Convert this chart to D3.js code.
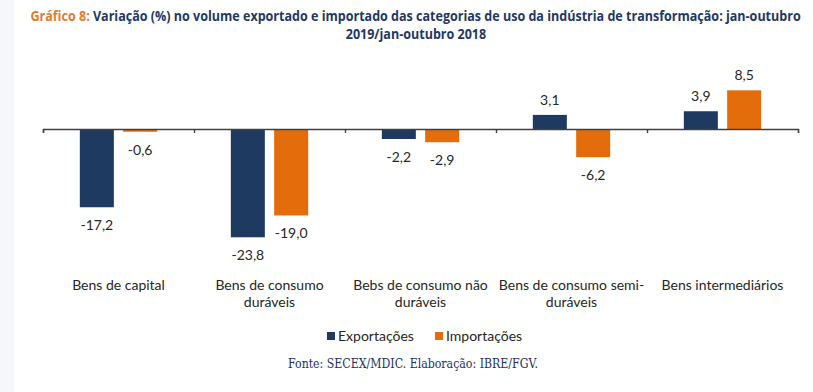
<!DOCTYPE html>
<html>
<head>
<meta charset="utf-8">
<script src="https://cdn.jsdelivr.net/npm/d3@7"></script>
<style>
  body { margin: 0; background: #fff; }
  svg { display: block; }
</style>
</head>
<body>
<svg class="chart"></svg>
<script>
var width = 813, height = 392;

// data
var categories = [
  ["Bens de capital"],
  ["Bens de consumo", "duráveis"],
  ["Bebs de consumo não", "duráveis"],
  ["Bens de consumo semi-", "duráveis"],
  ["Bens intermediários"]
];
var series = ["Exportações", "Importações"];
var exportacoes = [-17.2, -23.8, -2.2, 3.1, 3.9];
var importacoes = [-0.6, -19.0, -2.9, -6.2, 8.5];
var colors = ["#1f3a60", "#e46c0a"];

var data = categories.map((c, i) => ({
  name: c, values: [exportacoes[i], importacoes[i]]
}));

var fmt = v => v.toFixed(1).replace(".", ",");

var svg = d3.select(".chart").attr("width", width).attr("height", height);

// light strip at the left edge
svg.append("rect").attr("x", 0).attr("y", 0).attr("width", 14).attr("height", height)
  .attr("fill", "#f5f7fa");

// squeeze a text horizontally so it fits a width, centred on cx
function fitText(sel, cx, w) {
  var b = sel.node().getBBox();
  var s = w ? w / b.width : 1;
  sel.attr("transform", `translate(${cx - b.width * s / 2},0) scale(${s},1)`);
  return s;
}

// title
var t1 = svg.append("text").attr("y", 21)
  .style("font-family", "'Open Sans', sans-serif").style("font-weight", "bold")
  .style("font-size", "14px");
t1.append("tspan").attr("fill", "#e07b2e").text("Gráfico 8: ");
t1.append("tspan").attr("fill", "#1f3864")
  .text("Variação (%) no volume exportado e importado das categorias de uso da indústria de transformação: jan-outubro");
var sc = fitText(t1, 416, 771);
var t2 = svg.append("text").attr("y", 39)
  .style("font-family", "'Open Sans', sans-serif").style("font-weight", "bold")
  .style("font-size", "14px").attr("fill", "#1f3864")
  .text("2019/jan-outubro 2018");
fitText(t2, 416, t2.node().getBBox().width * sc);

// scales
var margin = {left: 43, right: 15};
var x0 = d3.scaleBand()
  .domain(d3.range(categories.length))
  .range([margin.left, width - margin.right])
  .padding(0);

var x1 = d3.scaleBand()
  .domain(series)
  .range([0, x0.bandwidth()])
  .paddingInner(0.215)
  .paddingOuter(0.85);

var y = d3.scaleLinear()
  .domain([-25, 10])
  .range([129 + 25 * 4.55, 129 - 10 * 4.55]);

// bars
var g = svg.append("g");
var groups = g.selectAll("g").data(data).enter().append("g")
  .attr("transform", (d, i) => `translate(${x0(i)},0)`);

groups.selectAll("rect")
  .data(d => d.values.map((v, j) => ({key: series[j], value: v, j: j})))
  .enter().append("rect")
    .attr("x", d => x1(d.key))
    .attr("y", d => y(Math.max(0, d.value)))
    .attr("width", x1.bandwidth())
    .attr("height", d => Math.abs(y(d.value) - y(0)))
    .attr("fill", d => colors[d.j]);

groups.selectAll("text.val")
  .data(d => d.values.map((v, j) => ({key: series[j], value: v, j: j})))
  .enter().append("text")
    .attr("class", "val")
    .attr("x", d => x1(d.key) + x1.bandwidth() / 2)
    .attr("y", d => d.value < 0 ? y(d.value) + 23 : y(d.value) - 10)
    .attr("text-anchor", "middle")
    .style("font-family", "Lato, 'Open Sans', sans-serif")
    .style("font-size", "14px")
    .attr("fill", "#262626")
    .text(d => fmt(d.value));

// axis with ticks at category boundaries
var xb = d3.scaleLinear().domain([0, categories.length])
  .range([margin.left, width - margin.right]);
var axis = svg.append("g")
  .attr("transform", `translate(0,${y(0)})`)
  .call(d3.axisBottom(xb).ticks(categories.length).tickSize(4).tickSizeOuter(4).tickFormat(""));
axis.selectAll("path, line").attr("stroke", "#404040").attr("stroke-width", 1.4);

// category labels
svg.append("g").selectAll("text").data(data).enter().append("text")
  .attr("x", (d, i) => x0(i) + x0.bandwidth() / 2)
  .attr("y", 290)
  .attr("text-anchor", "middle")
  .style("font-family", "Lato, 'Open Sans', sans-serif")
  .style("font-size", "14px")
  .attr("fill", "#262626")
  .each(function(d) {
    d3.select(this).selectAll("tspan").data(d.name).enter().append("tspan")
      .attr("x", d3.select(this).attr("x"))
      .attr("dy", (s, k) => k ? 17 : 0)
      .text(s => s);
  });

// legend
var legX = [327, 435];
var leg = svg.append("g").selectAll("g").data(series).enter().append("g")
  .attr("transform", (d, i) => `translate(${legX[i]},332)`);
leg.append("rect").attr("width", 8).attr("height", 8).attr("fill", (d, i) => colors[i]);
leg.append("text").attr("x", 11).attr("y", 9)
  .style("font-family", "Lato, 'Open Sans', sans-serif")
  .style("font-size", "14px")
  .attr("fill", "#262626")
  .text(d => d);

// source
var src = svg.append("text")
  .attr("y", 368)
  .style("font-family", "'DejaVu Serif', 'Liberation Serif', serif")
  .style("font-size", "12px")
  .attr("fill", "#23315e")
  .text("Fonte: SECEX/MDIC. Elaboração: IBRE/FGV.");
fitText(src, 413, 250);
</script>
</body>
</html>
